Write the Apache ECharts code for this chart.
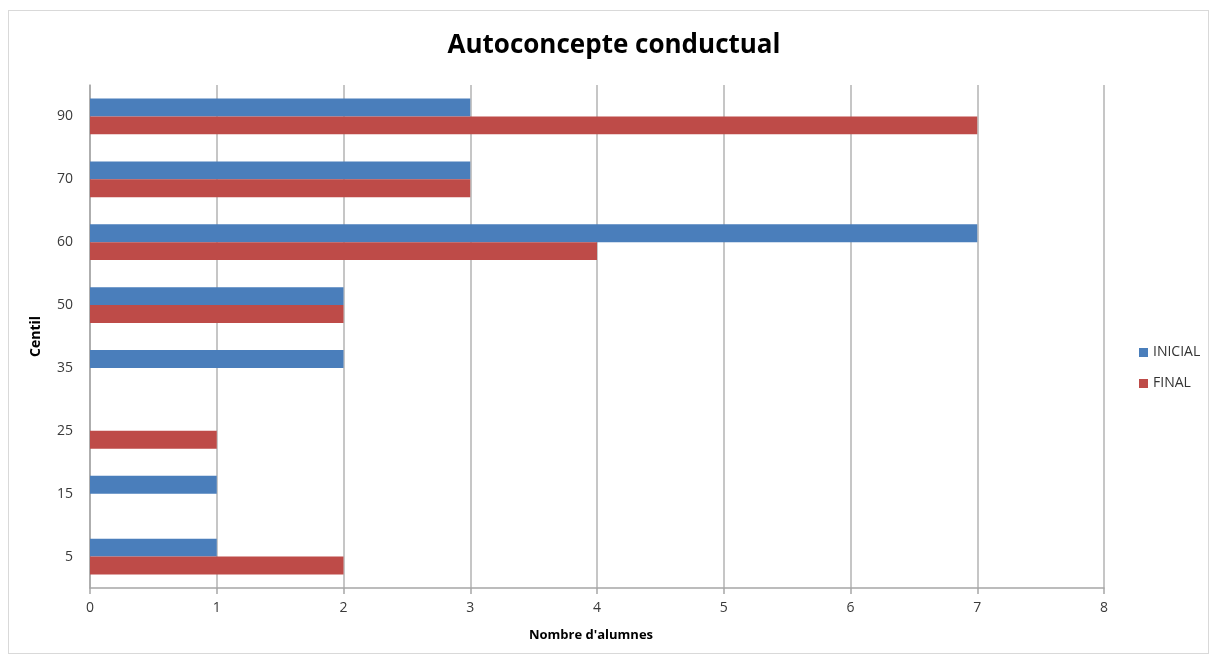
<!DOCTYPE html>
<html>
<head>
<meta charset="utf-8">
<script src="https://cdn.jsdelivr.net/npm/echarts@6/dist/echarts.min.js"></script>
<style>
  html, body { margin: 0; padding: 0; background: #fff; }
  #frame { position: absolute; left: 8px; top: 10px; width: 1201px; height: 644px; border: 1px solid #d9d9d9; box-sizing: border-box; }
  #chart { width: 1214px; height: 661px; }
</style>
</head>
<body>
<div id="frame"></div>
<div id="chart"></div>
<script>
// Percentile groups (bottom to top) and student counts per group
const centils = ['5', '15', '25', '35', '50', '60', '70', '90'];
const inicial = [1, 1, 0, 2, 2, 7, 3, 3];
const final = [2, 0, 1, 0, 2, 4, 3, 7];
const xTicks = [0, 1, 2, 3, 4, 5, 6, 7, 8];

const font = '"Open Sans", Lato, sans-serif';
const chart = echarts.init(document.getElementById('chart'), null, { renderer: 'canvas' });

chart.setOption({
  backgroundColor: 'transparent',
  animation: false,
  title: {
    text: 'Autoconcepte conductual',
    left: 609,
    textAlign: 'center',
    top: 28,
    textStyle: { fontFamily: font, fontSize: 26, fontWeight: 'bold', color: '#000' }
  },
  legend: {
    orient: 'vertical',
    left: 1134,
    top: 339,
    itemWidth: 9,
    itemHeight: 9,
    itemGap: 14,
    icon: 'rect',
    textStyle: { fontFamily: font, fontSize: 14, color: '#333', lineHeight: 17 },
    data: ['INICIAL', 'FINAL']
  },
  grid: { left: 90, right: 110, top: 85, bottom: 73, containLabel: false },
  xAxis: {
    type: 'value',
    min: xTicks[0],
    max: xTicks[xTicks.length - 1],
    interval: 1,
    name: "Nombre d'alumnes",
    nameLocation: 'middle',
    nameGap: 41,
    nameTextStyle: { fontFamily: font, fontSize: 13, fontWeight: 'bold', color: '#000', padding: [0, 12, 0, 0] },
    axisLine: { show: true, lineStyle: { color: '#a6a6a6', width: 1.5 } },
    axisTick: { show: true, length: 6, lineStyle: { color: '#a6a6a6', width: 1.5 } },
    axisLabel: { fontFamily: font, fontSize: 14, color: '#3a3a3a', margin: 13 },
    splitLine: { show: true, lineStyle: { color: '#b3b3b3', width: 1.5 } }
  },
  yAxis: {
    type: 'category',
    data: centils,
    name: 'Centil',
    nameLocation: 'middle',
    nameGap: 47,
    nameRotate: 90,
    nameTextStyle: { fontFamily: font, fontSize: 14, fontWeight: 'bold', color: '#000' },
    axisLine: { show: true, lineStyle: { color: '#a6a6a6', width: 1.5 } },
    axisTick: { show: false },
    axisLabel: { fontFamily: font, fontSize: 14, color: '#3a3a3a', margin: 17 },
    splitLine: { show: false }
  },
  series: [
    {
      name: 'INICIAL',
      type: 'bar',
      data: inicial,
      barGap: '0%',
      barCategoryGap: '43%',
      itemStyle: { color: '#4a7ebb' }
    },
    {
      name: 'FINAL',
      type: 'bar',
      data: final,
      barGap: '0%',
      barCategoryGap: '43%',
      itemStyle: { color: '#be4b48' }
    }
  ]
});
</script>
</body>
</html>
